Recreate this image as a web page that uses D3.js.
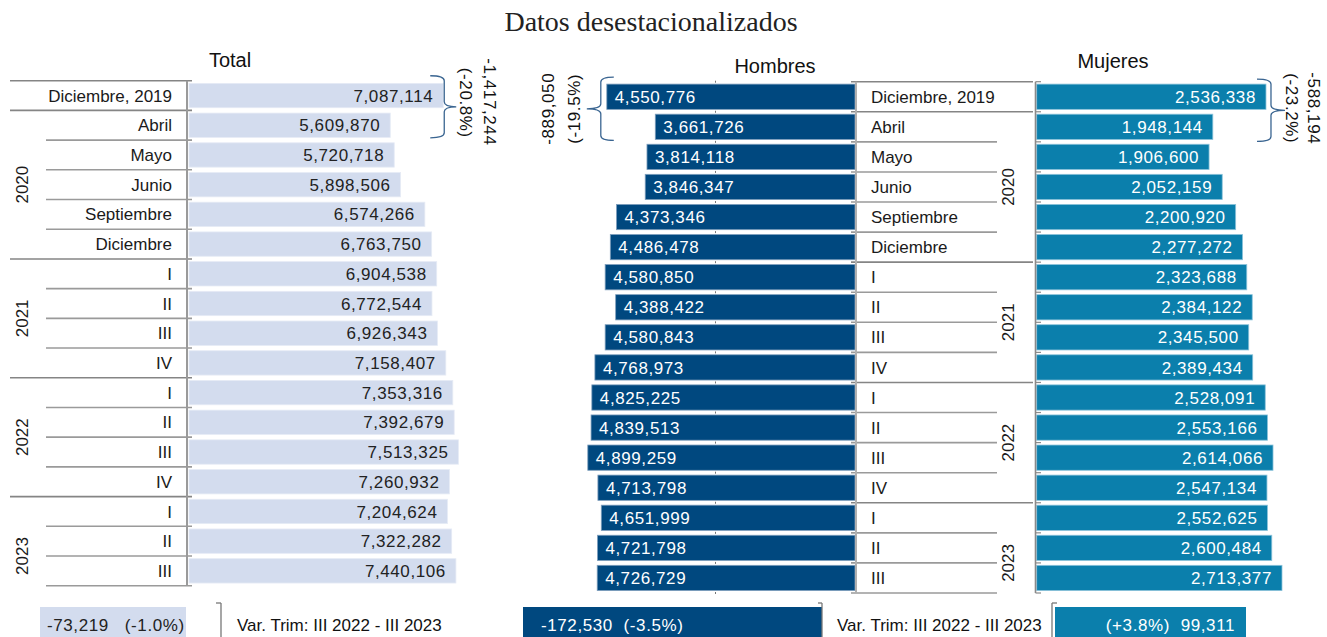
<!DOCTYPE html>
<html><head><meta charset="utf-8">
<script src="https://cdn.jsdelivr.net/npm/d3@7"></script>
<style>
html,body{margin:0;padding:0;background:#fff;}
svg{display:block;}
text{font-family:"Liberation Sans",Arial,sans-serif;}
</style></head>
<body>
<svg id="chart" width="1327" height="637"></svg>
<script>
// ---------- DATA ----------
const categories = ["Diciembre, 2019","Abril","Mayo","Junio","Septiembre","Diciembre","I","II","III","IV","I","II","III","IV","I","II","III"];
const years = ["2019","2020","2020","2020","2020","2020","2021","2021","2021","2021","2022","2022","2022","2022","2023","2023","2023"];
const total   = [7087114,5609870,5720718,5898506,6574266,6763750,6904538,6772544,6926343,7158407,7353316,7392679,7513325,7260932,7204624,7322282,7440106];
const hombres = [4550776,3661726,3814118,3846347,4373346,4486478,4580850,4388422,4580843,4768973,4825225,4839513,4899259,4713798,4651999,4721798,4726729];
const mujeres = [2536338,1948144,1906600,2052159,2200920,2277272,2323688,2384122,2345500,2389434,2528091,2553166,2614066,2547134,2552625,2600484,2713377];
const panelTitles = ["Total","Hombres","Mujeres"];
const braceLabels = [["-1,417,244","(-20.8%)"],["-889,050","(-19.5%)"],["-588,194","(-23.2%)"]];
const varLabels = ["-73,219   (-1.0%)","-172,530  (-3.5%)","(+3.8%)  99,311"];
const varCaption = "Var. Trim: III 2022 - III 2023";
const subtitle = "Datos desestacionalizados";

// ---------- STYLE ----------
const cTotal = "#d3dcee", cH = "#00487f", cM = "#0b7fac";
const fmt = d3.format(",");
const svg = d3.select("#chart");
const n = categories.length;
const idx = d3.range(n);

// ---------- SCALES ----------
const xT = d3.scaleLinear().domain([0, 8e6]).range([189, 476]);
const xH = d3.scaleLinear().domain([0, 5e6]).range([855, 582.3]);
const xM = d3.scaleLinear().domain([0, 3e6]).range([1036.7, 1307.9]);
const yL = d3.scaleBand().domain(idx).range([80.7, 585.7]).paddingInner(0.18).paddingOuter(0.09);
const yR = d3.scaleBand().domain(idx).range([81.7, 593]).paddingInner(0.16).paddingOuter(0.08);

// year groups
const groups = [];
years.forEach((y,i)=>{ if(!groups.length || groups[groups.length-1].year!==y) groups.push({year:y,start:i,count:1}); else groups[groups.length-1].count++; });
const isFull = i => i===0 || (i<n && years[i]!==years[i-1]);
const bounds = d3.range(n+1);

// ---------- TITLES ----------
svg.append("text").attr("x",651).attr("y",31).attr("text-anchor","middle")
  .style("font-family","'Liberation Serif','Times New Roman',serif").style("font-size","28px").attr("fill","#222").text(subtitle);
const titlePos = [[230,67],[775,73],[1113,68]];
panelTitles.forEach((t,k)=>svg.append("text").attr("x",titlePos[k][0]).attr("y",titlePos[k][1])
  .attr("text-anchor","middle").style("font-size","20px").attr("fill","#111").text(t));

// ---------- LEFT PANEL (Total) ----------
const gL = svg.append("g");
const stepL = yL.step(), y0L = yL.range()[0];
gL.selectAll("line.h").data(bounds).join("line")
  .attr("x1", i=>isFull(i)?10:46).attr("x2",192)
  .attr("y1", i=>y0L+i*stepL).attr("y2", i=>y0L+i*stepL)
  .attr("stroke", i=>isFull(i)?"#858585":"#9a9a9a").attr("stroke-width",1.6);
gL.append("line").attr("x1",187).attr("x2",187).attr("y1",y0L).attr("y2",y0L+n*stepL).attr("stroke","#9a9a9a").attr("stroke-width",2);
gL.selectAll("rect.bar").data(idx).join("rect")
  .attr("x", xT(0)).attr("y", i=>yL(i)).attr("width", i=>xT(total[i])-xT(0)).attr("height", yL.bandwidth())
  .attr("fill", cTotal).attr("stroke","#e6ebf5").attr("stroke-width",0.8);
gL.selectAll("text.val").data(idx).join("text")
  .attr("x", i=>xT(total[i])-10).attr("y", i=>yL(i)+yL.bandwidth()/2).attr("dy","0.36em")
  .attr("text-anchor","end").style("font-size","17px").style("letter-spacing","0.6px").attr("fill","#222")
  .text(i=>fmt(total[i]));
gL.selectAll("text.cat").data(idx).join("text")
  .attr("x",172).attr("y", i=>yL(i)+yL.bandwidth()/2).attr("dy","0.36em")
  .attr("text-anchor","end").style("font-size","17px").attr("fill","#1a1a1a").text(i=>categories[i]);
groups.filter(g=>g.count>1).forEach(g=>{
  const cy = y0L + (g.start + Math.max(g.count,4)/2)*stepL;
  gL.append("text").attr("transform",`translate(22,${cy}) rotate(-90)`).attr("text-anchor","middle")
    .attr("dy","0.36em").style("font-size","17px").attr("fill","#1a1a1a").text(g.year);
});

// ---------- MIDDLE LABEL COLUMN ----------
const gM = svg.append("g");
const stepR = yR.step(), y0R = yR.range()[0];
gM.selectAll("line.h").data(bounds).join("line")
  .attr("x1",851).attr("x2", i=>isFull(i)?1033:997)
  .attr("y1", i=>y0R+i*stepR).attr("y2", i=>y0R+i*stepR)
  .attr("stroke", i=>isFull(i)?"#858585":"#9a9a9a").attr("stroke-width",1.6);
gM.selectAll("rect.dot").data(bounds).join("rect")
  .attr("x",715).attr("y", i=>y0R+i*stepR-1).attr("width",1).attr("height",2).attr("fill","#777");
gM.selectAll("text.cat").data(idx).join("text")
  .attr("x",871).attr("y", i=>yR(i)+yR.bandwidth()/2).attr("dy","0.36em")
  .style("font-size","17px").attr("fill","#1a1a1a").text(i=>categories[i]);
groups.filter(g=>g.count>1).forEach(g=>{
  const cy = y0R + (g.start + Math.max(g.count,4)/2)*stepR;
  gM.append("text").attr("transform",`translate(1008,${cy}) rotate(-90)`).attr("text-anchor","middle")
    .attr("dy","0.36em").style("font-size","17px").attr("fill","#1a1a1a").text(g.year);
});

// ---------- HOMBRES ----------
const gH = svg.append("g");
gH.selectAll("rect.bar").data(idx).join("rect")
  .attr("x", i=>xH(hombres[i])).attr("y", i=>yR(i)).attr("width", i=>xH(0)-xH(hombres[i])).attr("height", yR.bandwidth())
  .attr("fill", cH).attr("stroke","#7f9fbd").attr("stroke-width",0.8);
gH.selectAll("text.val").data(idx).join("text")
  .attr("x", i=>xH(hombres[i])+8).attr("y", i=>yR(i)+yR.bandwidth()/2).attr("dy","0.36em")
  .style("font-size","17px").style("letter-spacing","0.6px").attr("fill","#fff").text(i=>fmt(hombres[i]));
svg.append("line").attr("x1",856).attr("x2",856).attr("y1",y0R).attr("y2",y0R+n*stepR).attr("stroke","#b0b0b0").attr("stroke-width",2);

// ---------- MUJERES ----------
const gW = svg.append("g");
gW.selectAll("rect.bar").data(idx).join("rect")
  .attr("x", xM(0)).attr("y", i=>yR(i)).attr("width", i=>xM(mujeres[i])-xM(0)).attr("height", yR.bandwidth())
  .attr("fill", cM).attr("stroke","#8cc3da").attr("stroke-width",0.8);
gW.selectAll("text.val").data(idx).join("text")
  .attr("x", i=>xM(mujeres[i])-10).attr("y", i=>yR(i)+yR.bandwidth()/2).attr("dy","0.36em")
  .attr("text-anchor","end").style("font-size","17px").style("letter-spacing","0.6px").attr("fill","#fff").text(i=>fmt(mujeres[i]));
svg.append("line").attr("x1",1035.5).attr("x2",1035.5).attr("y1",y0R).attr("y2",y0R+n*stepR).attr("stroke","#8a8a8a").attr("stroke-width",1.6);
svg.selectAll("line.rt").data(bounds).join("line")
  .attr("x1",1035.5).attr("x2",1041).attr("y1", i=>y0R+i*stepR).attr("y2", i=>y0R+i*stepR)
  .attr("stroke","#8a8a8a").attr("stroke-width",1.2);

// ---------- BRACES ----------
function brace(x,y0,y1,d,arm,tip){
  const ym=(y0+y1)/2;
  return `M${x-d*arm},${y0} Q${x},${y0} ${x},${y0+5} L${x},${ym-5} Q${x},${ym} ${x+d*tip},${ym} Q${x},${ym} ${x},${ym+5} L${x},${y1-5} Q${x},${y1} ${x-d*arm},${y1}`;
}
const braceCol = "#3a6591";
const bT = {x:xT(total[0])+1, y0:yL(0)-7.6, y1:yL(1)+yL.bandwidth()+0.4};
const bH = {x:xH(hombres[0])-6, y0:yR(0)-7, y1:yR(1)+yR.bandwidth()+1};
const bM = {x:xM(mujeres[0])+5, y0:yR(0)-5, y1:yR(1)+yR.bandwidth()+2};
svg.append("path").attr("d",brace(bT.x,bT.y0,bT.y1,1,14,12)).attr("fill","none").attr("stroke",braceCol).attr("stroke-width",1.3);
svg.append("path").attr("d",brace(bH.x,bH.y0,bH.y1,-1,13,14)).attr("fill","none").attr("stroke",braceCol).attr("stroke-width",1.3);
svg.append("path").attr("d",brace(bM.x,bM.y0,bM.y1,1,14,14)).attr("fill","none").attr("stroke",braceCol).attr("stroke-width",1.3);
function braceText(x,y,rot,t){
  svg.append("text").attr("transform",`translate(${x},${y}) rotate(${rot})`).attr("text-anchor","middle")
    .attr("dy","0.36em").style("font-size","17px").style("letter-spacing","0.6px").attr("fill","#111").text(t);
}
const ymT=(bT.y0+bT.y1)/2, ymH=(bH.y0+bH.y1)/2, ymM=(bM.y0+bM.y1)/2;
braceText(bT.x+46, ymT-5, 90, braceLabels[0][0]);
braceText(bT.x+22, ymT-4, 90, braceLabels[0][1]);
braceText(bH.x-53, ymH, -90, braceLabels[1][0]);
braceText(bH.x-27, ymH, -90, braceLabels[1][1]);
braceText(bM.x+43, ymM-2, 90, braceLabels[2][0]);
braceText(bM.x+21, ymM-2, 90, braceLabels[2][1]);

// ---------- VARIATION BOXES ----------
const boxY = 607, boxH = 34, textY = 631;
const boxes = [
  {x:40, w:146, fill:cTotal, col:"#222", tx:47, anchor:"start"},
  {x:523, w:299, fill:cH, col:"#fff", tx:541, anchor:"start"},
  {x:1055, w:191, fill:cM, col:"#fff", tx:1235, anchor:"end"}
];
boxes.forEach((b,k)=>{
  svg.append("rect").attr("x",b.x).attr("y",boxY).attr("width",b.w).attr("height",boxH).attr("fill",b.fill);
  svg.append("text").attr("x",b.tx).attr("y",textY).attr("text-anchor",b.anchor)
    .style("font-size","17px").style("letter-spacing","0.6px").style("white-space","pre").attr("fill",b.col).text(varLabels[k]);
});
[[221,-5],[822,-4],[1052,5]].forEach(([x,d])=>{
  svg.append("line").attr("x1",x).attr("x2",x).attr("y1",603).attr("y2",640).attr("stroke","#777").attr("stroke-width",1.3);
  svg.append("line").attr("x1",x).attr("x2",x+d).attr("y1",603).attr("y2",603).attr("stroke","#777").attr("stroke-width",1.3);
});
[237,837].forEach(x=>svg.append("text").attr("x",x).attr("y",textY).style("font-size","17px").attr("fill","#111").text(varCaption));
</script>
</body></html>
